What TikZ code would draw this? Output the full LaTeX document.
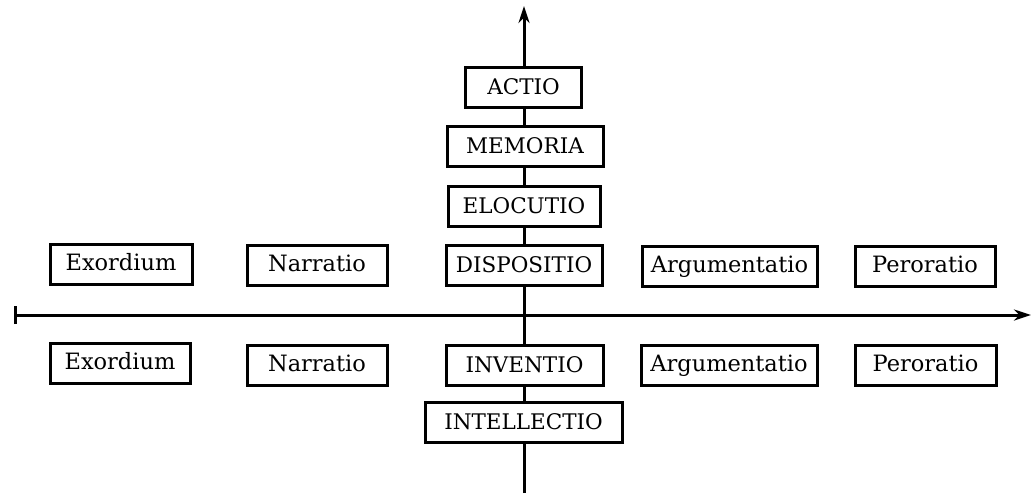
\documentclass[tikz,border=0pt]{standalone}
\usepackage{fontspec}
\setmainfont{DejaVu Serif}
\usetikzlibrary{arrows.meta}
\begin{document}
\begin{tikzpicture}[x=1pt,y=-1pt,
  box/.style={draw=black,line width=3pt,fill=white,inner sep=0pt,
    minimum height=40pt,text height=16pt,text depth=4pt,
    font=\fontsize{22.5}{22.5}\selectfont},
  capbox/.style={box,text height=15.5pt,text depth=1pt,font=\fontsize{21.5}{21.5}\selectfont},
  axis/.style={line width=3pt}]
\useasboundingbox (0,0) rectangle (1032,493);
% axis endpoints
\coordinate (vtop) at (524,6);
\coordinate (vbot) at (524,493);
\coordinate (hleft) at (14,315);
\coordinate (hright) at (1031,315);
\draw[axis,-{Stealth[length=17pt,width=11pt]}] (vbot) -- (vtop);
\draw[axis,{Bar[width=18pt]}-{Stealth[length=17pt,width=11pt]}] (hleft) -- (hright);
% central column
\node[capbox,minimum width=116pt] (actio) at (523.5,87.5) {ACTIO};
\node[capbox,minimum width=156pt] (memoria) at (525,146.5) {MEMORIA};
\node[capbox,minimum width=152pt] (elocutio) at (524,206.5) {ELOCUTIO};
\node[capbox,minimum width=156pt] (dispositio) at (524,265) {DISPOSITIO};
\node[capbox,minimum width=157pt] (inventio) at (524.5,365) {INVENTIO};
\node[capbox,minimum width=197pt] (intellectio) at (523.5,422) {INTELLECTIO};
% upper row
\node[box,minimum width=142pt] (exU) at (121,264.5) {Exordium};
\node[box,minimum width=140pt] (naU) at (317,265) {Narratio};
\node[box,minimum width=175pt] (arU) at (729.5,266) {Argumentatio};
\node[box,minimum width=140pt] (peU) at (925,266) {Peroratio};
% lower row
\node[box,minimum width=140pt] (exL) at (120,363) {Exordium};
\node[box,minimum width=140pt] (naL) at (317,365) {Narratio};
\node[box,minimum width=176pt] (arL) at (729,365) {Argumentatio};
\node[box,minimum width=141pt] (peL) at (925.5,365) {Peroratio};
\end{tikzpicture}
\end{document}
